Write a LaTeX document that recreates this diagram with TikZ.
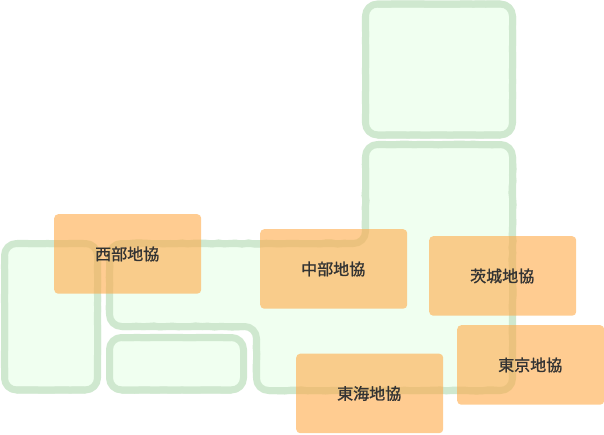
\documentclass[tikz,border=0pt]{standalone}
\usepackage{fontspec}
\setmainfont[FakeBold=1.2]{Noto Sans CJK JP}
\usetikzlibrary{decorations.pathmorphing}
\definecolor{landfill}{HTML}{F0FFF0}
\definecolor{landline}{HTML}{CFE8CF}
\definecolor{boxfill}{HTML}{FFAA48}
\definecolor{labeltext}{HTML}{333333}
\newcommand{\reglabel}[1]{\hspace*{-1pt}\raisebox{-1pt}{#1}}
\tikzset{
  land/.style={fill=landfill,draw=none,rounded corners=12pt},
  shore/.style={draw=landline,line width=7pt,rounded corners=12pt,line join=round},
  rough/.style={draw=landline,line width=7pt,line cap=round,decorate,decoration={random steps,segment length=6pt,amplitude=#1}},
  rough/.default=0.4pt,
  region/.style={fill=boxfill,fill opacity=0.6,text opacity=1,text=labeltext,rounded corners=4pt,minimum width=147pt,minimum height=79.5pt,inner sep=0pt,font=\fontsize{16pt}{18pt}\selectfont,anchor=north west}
}
\begin{document}
\begin{tikzpicture}[x=1pt,y=-1pt]
\pgfmathsetseed{7}
\useasboundingbox (0,0) rectangle (604,434);
% islands
\path[land] (365.5,4) rectangle (512.5,135);
\path[land] (4.5,243.5) rectangle (97.5,390);
\path[land] (109.5,337.5) rectangle (243.5,390);
\path[land] (365.5,144.5) -- (512.5,144.5) -- (512.5,390.5) -- (256.5,390.5) -- (256.5,326.5) -- (109.5,326.5) -- (109.5,243.5) -- (365.5,243.5) -- cycle;
\draw[shore] (365.5,4) rectangle (512.5,135);
\draw[shore] (4.5,243.5) rectangle (97.5,390);
\draw[shore] (109.5,337.5) rectangle (243.5,390);
\draw[shore] (365.5,144.5) -- (512.5,144.5) -- (512.5,390.5) -- (256.5,390.5) -- (256.5,326.5) -- (109.5,326.5) -- (109.5,243.5) -- (365.5,243.5) -- cycle;
% roughened straight runs of the coast
\draw[rough] (378,144.5) -- (500,144.5);
\draw[rough=0.6pt] (512.5,157) -- (512.5,378);
\draw[rough=0.6pt] (500,390.5) -- (269,390.5);
\draw[rough] (256.5,378) -- (256.5,339);
\draw[rough=0.6pt] (244,326.5) -- (122,326.5);
\draw[rough] (109.5,314) -- (109.5,256);
\draw[rough=0.6pt] (122,243.5) -- (353,243.5);
\draw[rough=0.6pt] (365.5,231) -- (365.5,157);
\draw[rough=0.25pt] (378,4) -- (500,4);
\draw[rough=0.25pt] (378,135) -- (500,135);
\draw[rough=0.25pt] (365.5,16) -- (365.5,123);
\draw[rough=0.25pt] (512.5,16) -- (512.5,123);
\draw[rough=0.25pt] (4.5,256) -- (4.5,378);
\draw[rough=0.25pt] (97.5,256) -- (97.5,378);
\draw[rough=0.25pt] (17,390) -- (85,390);
\draw[rough=0.25pt] (17,243.5) -- (85,243.5);
\draw[rough=0.25pt] (122,337.5) -- (231,337.5);
\draw[rough=0.25pt] (122,390) -- (231,390);
% regions
\node[region] (seibu) at (54,214) {\reglabel{西部地協}};
\node[region] (chubu) at (260,229) {\reglabel{中部地協}};
\node[region] (ibaraki) at (429,236) {\reglabel{茨城地協}};
\node[region] (tokyo) at (457,325) {\reglabel{東京地協}};
\node[region] (tokai) at (296,353.5) {\reglabel{東海地協}};
\end{tikzpicture}
\end{document}
